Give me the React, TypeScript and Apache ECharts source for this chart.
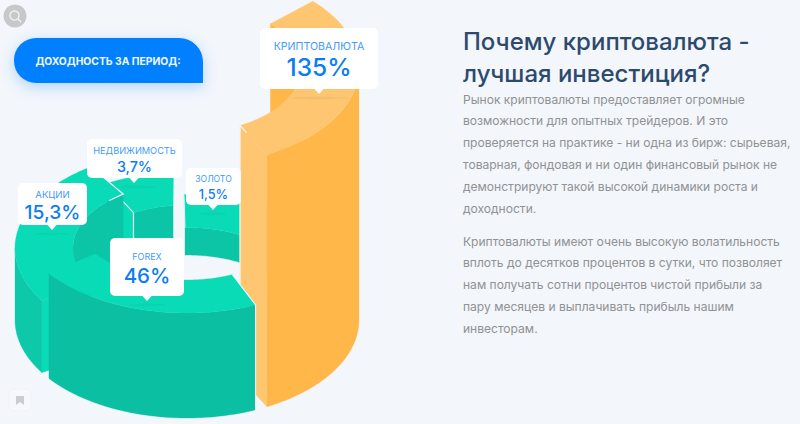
import React, { useEffect, useRef } from "react";
import * as echarts from "echarts";

// ---- data ----
const categories = ["АКЦИИ", "НЕДВИЖИМОСТЬ", "ЗОЛОТО", "FOREX", "КРИПТОВАЛЮТА"];
const values = [15.3, 3.7, 1.5, 46, 135];
const valueLabels = ["15,3%", "3,7%", "1,5%", "46%", "135%"];
const badgeTitle = "ДОХОДНОСТЬ ЗА ПЕРИОД:";
const headingLines = ["Почему криптовалюта -", "лучшая инвестиция?"];
const paragraphOne = [
  "Рынок криптовалюты предоставляет огромные",
  "возможности для опытных трейдеров. И это",
  "проверяется на практике - ни одна из бирж: сырьевая,",
  "товарная, фондовая и ни один финансовый рынок не",
  "демонстрируют такой высокой динамики роста и",
  "доходности.",
];
const paragraphTwo = [
  "Криптовалюты имеют очень высокую волатильность",
  "вплоть до десятков процентов в сутки, что позволяет",
  "нам получать сотни процентов чистой прибыли за",
  "пару месяцев и выплачивать прибыль нашим",
  "инвесторам.",
];

// ---- projection and styling of the isometric ring ----
const CX = 187, CY = 320, R_OUT = 172, R_IN = 114, RY_RATIO = 98 / 172;
const TEAL = { top: "#0ADBB7", wall: "#0ABFA2", inner: "#0CC5A7" };
const TEAL_SOFT = { top: "#0ADBB7", wall: "#0DC8A9", inner: "#0CC5A7" };
const AMBER = { top: "#FFC671", wall: "#FFB74A", inner: "#FFB74A" };

// same order as categories; angles in degrees, y down, h = drawn height
const sliceGeometry = [
  { start: 147.5, end: 236, h: 72, order: 3, c: TEAL_SOFT, startFace: true, endOut: 0 },
  { start: 242, end: 263, h: 50, order: 2, c: TEAL, startFace: true, endOut: 265.5 },
  { start: 269, end: 317, h: 27.5, order: 1, c: TEAL, startFace: false, endOut: 0 },
  { start: 66.5, end: 143.4, h: 105, order: 5, c: TEAL, startFace: false, endOut: 0 },
  { start: 317, end: 422.3, h: 252, order: 4, c: AMBER, startFace: false, endOut: 0 },
];

const labelGeometry = [
  { x: 18, y: 183, w: 69, h: 42, tip: 52, titleY: 194, valueY: 212, titleSize: 9.6, valueSize: 19.2 },
  { x: 87, y: 139, w: 95, h: 39, tip: 134, titleY: 150, valueY: 166, titleSize: 9.2, valueSize: 14.3 },
  { x: 186, y: 168, w: 55, h: 37, tip: 213, titleY: 179, valueY: 194, titleSize: 8.6, valueSize: 12.7 },
  { x: 110, y: 238, w: 74, h: 58, tip: 147, titleY: 256, valueY: 275, titleSize: 9, valueSize: 20.5 },
  { x: 260, y: 28, w: 118, h: 61, tip: 319, titleY: 46, valueY: 67, titleSize: 10.6, valueSize: 24.5 },
];

const FONT = "Inter, 'Noto Sans', sans-serif";
const BODY_FONT = "Inter, 'Noto Sans', sans-serif";

const pt = (deg: number, r: number, h: number): number[] => {
  const a = (deg * Math.PI) / 180;
  return [CX + r * Math.cos(a), CY - h + r * RY_RATIO * Math.sin(a)];
};
const arc = (a: number, b: number, r: number, h: number) => {
  const out: number[][] = [];
  const n = Math.max(2, Math.ceil(Math.abs(b - a)));
  for (let i = 0; i <= n; i++) out.push(pt(a + ((b - a) * i) / n, r, h));
  return out;
};
const clampVisible = (a: number, b: number, front: boolean) => {
  // angle sub-range whose sine is >= 0 (front) or <= 0 (back)
  const degs: number[] = [];
  for (let d = a; d < b; d += 0.5) degs.push(d);
  degs.push(b);
  const keep = degs.filter((d) => {
    const s = Math.sin((d * Math.PI) / 180);
    return front ? s >= -1e-6 : s <= 1e-6;
  });
  return keep.length > 1 ? [keep[0], keep[keep.length - 1]] : null;
};
const poly = (points: number[][], fill: string, z2: number, stroke?: string) => ({
  type: "polygon",
  z2,
  shape: { points },
  style: { fill, stroke: stroke || fill, lineWidth: 0.3 },
  silent: true,
});
const edge = (points: number[][], z2: number, width = 1.2) => ({
  type: "polyline",
  z2,
  shape: { points },
  style: { fill: "none", stroke: "#F4F7FC", lineWidth: width },
  silent: true,
});

const renderSlice = (params: any) => {
  const i = params.dataIndex;
  const g = sliceGeometry[i];
  const base = g.order * 10;
  const kids: any[] = [];
  const endOut = g.endOut || g.end;

  const back = clampVisible(g.start, g.end, false);
  if (back) {
    kids.push(poly([...arc(back[0], back[1], R_IN, g.h), ...arc(back[1], back[0], R_IN, 0)], g.c.inner, base));
  }
  const front = clampVisible(g.start, g.end, true);
  if (front) {
    kids.push(poly([...arc(front[0], front[1], R_OUT, g.h), ...arc(front[1], front[0], R_OUT, 0)], g.c.wall, base + 1));
  }
  kids.push(poly([...arc(g.start, endOut, R_OUT, g.h), ...arc(g.end, g.start, R_IN, g.h)], g.c.top, base + 2));
  if (g.startFace) {
    kids.push(poly([pt(g.start, R_IN, g.h), pt(g.start, R_OUT, g.h), pt(g.start, R_OUT, 0), pt(g.start, R_IN, 0)], g.c.top, base + 3));
  }
  if (categories[i] === "КРИПТОВАЛЮТА") {
    kids.push(poly([pt(g.end, R_IN, g.h), pt(g.end, R_OUT, g.h), pt(g.end, R_OUT, 0), pt(g.end, R_IN, 0)], g.c.top, base + 3));
    kids.push(edge([pt(g.end, R_IN, 0), pt(g.end, R_IN, g.h), pt(g.end, R_IN + 14, g.h)], base + 4));
  }
  if (categories[i] === "FOREX") {
    kids.push(edge([pt(g.start, R_IN, g.h), pt(g.start, R_OUT, g.h), pt(g.start, R_OUT, 0)], base + 4));
  }
  if (categories[i] === "АКЦИИ") {
    kids.push(edge([pt(g.end, R_OUT, g.h), pt(g.end, R_IN, g.h), pt(g.end - 9, R_IN, g.h)], base + 4));
  }
  if (categories[i] === "НЕДВИЖИМОСТЬ") {
    kids.push(edge([pt(g.start, R_IN + 22, g.h), pt(g.start, R_IN, g.h), pt(g.start, R_IN, 0)], base + 4));
  }
  if (categories[i] === "ЗОЛОТО") {
    kids.push(edge([pt(g.start, R_OUT, g.h), pt(g.start, R_IN, g.h)], base + 4, 0.9));
  }
  return { type: "group", children: kids };
};

const renderLabel = (params: any) => {
  const i = params.dataIndex;
  const l = labelGeometry[i];
  const cx = l.x + l.w / 2;
  return {
    type: "group",
    children: [
      {
        type: "ellipse",
        shape: { cx: l.tip, cy: l.y + l.h + 9, rx: l.w * 0.25, ry: 1.2 },
        style: { fill: "rgba(40,70,80,0.05)", shadowBlur: 3, shadowColor: "rgba(40,70,80,0.10)" },
        z2: 100,
      },
      {
        type: "rect",
        shape: { x: l.x, y: l.y, width: l.w, height: l.h, r: 5 },
        style: { fill: "#FFFFFF" },
        z2: 101,
      },
      {
        type: "polygon",
        shape: { points: [[l.tip - 5, l.y + l.h - 0.5], [l.tip + 5, l.y + l.h - 0.5], [l.tip, l.y + l.h + 5]] },
        style: { fill: "#FFFFFF" },
        z2: 101,
      },
      {
        type: "text",
        z2: 102,
        style: {
          text: categories[i],
          x: cx,
          y: l.titleY,
          align: "center",
          verticalAlign: "middle",
          fill: "#3F9BFA",
          font: `400 ${l.titleSize}px ${FONT}`,
        },
      },
      {
        type: "text",
        z2: 102,
        style: {
          text: valueLabels[i],
          x: cx,
          y: l.valueY,
          align: "center",
          verticalAlign: "middle",
          fill: "#0A7DF5",
          font: `500 ${l.valueSize}px ${FONT}`,
        },
      },
    ],
  };
};

const textLines = (lines: string[], firstY: number, step: number, font: string, fill: string) =>
  lines.map((text, i) => ({
    type: "text",
    silent: true,
    style: { text, x: 463, y: firstY + i * step, align: "left", verticalAlign: "middle", fill, font },
  }));

export default function App() {
  const ref = useRef<HTMLDivElement>(null);
  useEffect(() => {
    const chart = echarts.init(ref.current as HTMLDivElement, undefined, { renderer: "svg" });
    chart.setOption({
      animation: false,
      backgroundColor: "#F3F6FB",
      series: [
        {
          type: "custom",
          coordinateSystem: "none",
          silent: true,
          z: 2,
          data: values,
          renderItem: renderSlice,
        },
        {
          type: "custom",
          coordinateSystem: "none",
          silent: true,
          z: 3,
          data: values,
          renderItem: renderLabel,
        },
      ],
      graphic: [
        // search icon
        { type: "circle", shape: { cx: 15, cy: 16, r: 11.5 }, style: { fill: "#C6C8CA" }, silent: true },
        { type: "circle", shape: { cx: 14.5, cy: 15.5, r: 4.6 }, style: { fill: "none", stroke: "#F2F5FB", lineWidth: 1.3 }, silent: true },
        { type: "line", shape: { x1: 18, y1: 19, x2: 21, y2: 22 }, style: { stroke: "#F2F5FB", lineWidth: 1.3 }, silent: true },
        // badge
        {
          type: "rect",
          shape: { x: 14, y: 38, width: 189, height: 45, r: [22, 24, 0, 22] },
          style: { fill: "#0080FF", shadowBlur: 14, shadowOffsetY: 4, shadowColor: "rgba(0,128,255,0.28)" },
          silent: true,
        },
        {
          type: "text",
          silent: true,
          style: {
            text: badgeTitle,
            x: 108,
            y: 61,
            align: "center",
            verticalAlign: "middle",
            fill: "#F0F7FF",
            font: `700 10.3px ${FONT}`,
          },
        },
        // bookmark icon
        {
          type: "rect",
          shape: { x: 9, y: 389, width: 22, height: 22, r: 6 },
          style: { fill: "#F6F8FC", stroke: "#F0F2F7", lineWidth: 1 },
          silent: true,
        },
        {
          type: "polygon",
          shape: { points: [[16, 396], [24, 396], [24, 405], [20, 402], [16, 405]] },
          style: { fill: "#C9CCD2" },
          silent: true,
        },
        ...textLines(headingLines, 41, 32, `500 24px ${FONT}`, "#2C4A6E"),
        ...textLines(paragraphOne, 99, 21.8, `400 12.05px ${BODY_FONT}`, "#909294"),
        ...textLines(paragraphTwo, 241, 21.8, `400 12.05px ${BODY_FONT}`, "#909294"),
      ],
    });
    return () => chart.dispose();
  }, []);
  return <div ref={ref} style={{ position: "absolute", left: 0, top: 0, width: 800, height: 424 }} />;
}
